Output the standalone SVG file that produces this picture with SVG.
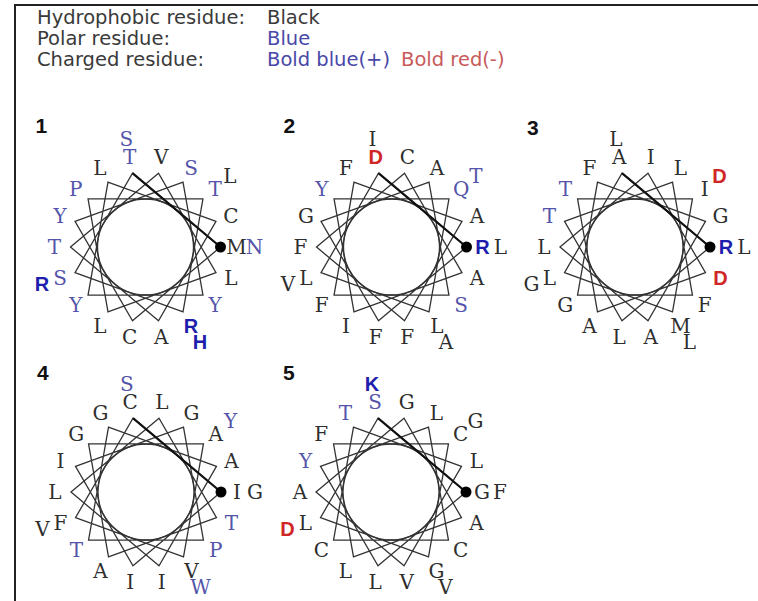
<svg xmlns="http://www.w3.org/2000/svg" xmlns:xlink="http://www.w3.org/1999/xlink" width="758" height="601" viewBox="0 0 758 601">
<style>
.frame{stroke:#222;stroke-width:2;fill:none}
.leg{font-family:"DejaVu Sans",Verdana,sans-serif;font-size:19.5px;fill:#3a3a3a}
.legb{fill:#4848a8}
.legr{fill:#c85a5a}
.num{font-family:"Liberation Sans",Arial,sans-serif;font-size:21px;font-weight:bold;fill:#111}
.star{fill:none;stroke:#333;stroke-width:1.3;stroke-linejoin:miter}
.first{fill:none;stroke:#111;stroke-width:2.2}
.lab{font-family:"DejaVu Serif","Liberation Serif",serif;font-size:20px;text-anchor:middle;fill:#2e2e2e}
.p{fill:#5454aa}
.pos{font-family:"Liberation Sans",Arial,sans-serif;font-weight:bold;font-size:20px;fill:#1e1eae}
.neg{font-family:"Liberation Sans",Arial,sans-serif;font-weight:bold;font-size:20px;fill:#d02626}
</style>
<defs>
<g id="wheel">
<circle cx="0" cy="0" r="48" class="star"/>
<path class="star" d="M75,0 L-13.02,-73.86 L-70.48,25.65 L37.5,64.95 L57.45,-48.21 L-57.45,-48.21 L-37.5,64.95 L70.48,25.65 L13.02,-73.86 L-75,0 L13.02,73.86 L70.48,-25.65 L-37.5,-64.95 L-57.45,48.21 L57.45,48.21 L37.5,-64.95 L-70.48,-25.65 L-13.02,73.86 Z"/>
<path class="first" d="M75,0 L-13.02,-73.86"/>
<circle cx="75" cy="0" r="5.5" fill="#000"/>
</g>
</defs>
<rect x="0" y="0" width="758" height="601" fill="#fff"/>
<path class="frame" d="M15,601 L15,5 L758,5"/>
<g id="legend">
<text class="leg" x="37" y="24">Hydrophobic residue:</text>
<text class="leg" x="267" y="24">Black</text>
<text class="leg" x="37" y="45">Polar residue:</text>
<text class="leg legb" x="267" y="45">Blue</text>
<text class="leg" x="37" y="66">Charged residue:</text>
<text class="leg legb" x="267" y="66">Bold blue(+)</text>
<text class="leg legr" x="401" y="66">Bold red(-)</text>
</g>
<g id="connectors">
<use xlink:href="#wheel" href="#wheel" x="145.5" y="247"/>
<use xlink:href="#wheel" href="#wheel" x="391.5" y="247"/>
<use xlink:href="#wheel" href="#wheel" x="635" y="247"/>
<use xlink:href="#wheel" href="#wheel" x="146" y="492"/>
<use xlink:href="#wheel" href="#wheel" x="391" y="492"/>
</g>
<g id="wheel1" transform="translate(145.5,247)">
<text class="num" x="-110" y="-114">1</text>
<text class="lab" x="91" y="7">M</text>
<text class="lab p" x="109" y="7">N</text>
<text class="lab" x="85.51" y="38.12">L</text>
<text class="lab p" x="69.71" y="65.49">Y</text>
<text class="pos" text-anchor="middle" x="45.5" y="85.81">R</text>
<text class="pos" text-anchor="middle" x="54.5" y="102.39">H</text>
<text class="lab" x="15.8" y="96.62">A</text>
<text class="lab" x="-15.8" y="96.62">C</text>
<text class="lab" x="-45.5" y="85.81">L</text>
<text class="lab p" x="-69.71" y="65.49">Y</text>
<text class="lab p" x="-85.51" y="38.12">S</text>
<text class="pos" text-anchor="middle" x="-103.5" y="44.28">R</text>
<text class="lab p" x="-91" y="7">T</text>
<text class="lab p" x="-85.51" y="-24.12">Y</text>
<text class="lab p" x="-69.71" y="-51.49">P</text>
<text class="lab" x="-45.5" y="-71.81">L</text>
<text class="lab p" x="-15.8" y="-82.62">T</text>
<text class="lab p" x="-19.1" y="-101.5">S</text>
<text class="lab" x="15.8" y="-82.62">V</text>
<text class="lab p" x="45.5" y="-71.81">S</text>
<text class="lab p" x="69.71" y="-51.49">T</text>
<text class="lab" x="84.5" y="-64">L</text>
<text class="lab" x="85.51" y="-24.12">C</text>
</g>
<g id="wheel2" transform="translate(391.5,247)">
<text class="num" x="-108" y="-114">2</text>
<text class="pos" text-anchor="middle" x="91" y="7">R</text>
<text class="lab" x="109" y="7">L</text>
<text class="lab" x="85.51" y="38.12">A</text>
<text class="lab p" x="69.71" y="65.49">S</text>
<text class="lab" x="45.5" y="85.81">L</text>
<text class="lab" x="54.5" y="102.39">A</text>
<text class="lab" x="15.8" y="96.62">F</text>
<text class="lab" x="-15.8" y="96.62">F</text>
<text class="lab" x="-45.5" y="85.81">I</text>
<text class="lab" x="-69.71" y="65.49">F</text>
<text class="lab" x="-85.51" y="38.12">L</text>
<text class="lab" x="-103.5" y="44.28">V</text>
<text class="lab" x="-91" y="7">F</text>
<text class="lab" x="-85.51" y="-24.12">G</text>
<text class="lab p" x="-69.71" y="-51.49">Y</text>
<text class="lab" x="-45.5" y="-71.81">F</text>
<text class="neg" text-anchor="middle" x="-15.8" y="-82.62">D</text>
<text class="lab" x="-19.1" y="-101.5">I</text>
<text class="lab" x="15.8" y="-82.62">C</text>
<text class="lab" x="45.5" y="-71.81">A</text>
<text class="lab p" x="69.71" y="-51.49">Q</text>
<text class="lab p" x="84.5" y="-64">T</text>
<text class="lab" x="85.51" y="-24.12">A</text>
</g>
<g id="wheel3" transform="translate(635,247)">
<text class="num" x="-108" y="-112">3</text>
<text class="pos" text-anchor="middle" x="91" y="7">R</text>
<text class="lab" x="109" y="7">L</text>
<text class="neg" text-anchor="middle" x="85.51" y="38.12">D</text>
<text class="lab" x="69.71" y="65.49">F</text>
<text class="lab" x="45.5" y="85.81">M</text>
<text class="lab" x="54.5" y="102.39">L</text>
<text class="lab" x="15.8" y="96.62">A</text>
<text class="lab" x="-15.8" y="96.62">L</text>
<text class="lab" x="-45.5" y="85.81">A</text>
<text class="lab" x="-69.71" y="65.49">G</text>
<text class="lab" x="-85.51" y="38.12">L</text>
<text class="lab" x="-103.5" y="44.28">G</text>
<text class="lab" x="-91" y="7">L</text>
<text class="lab p" x="-85.51" y="-24.12">T</text>
<text class="lab p" x="-69.71" y="-51.49">T</text>
<text class="lab" x="-45.5" y="-71.81">F</text>
<text class="lab" x="-15.8" y="-82.62">A</text>
<text class="lab" x="-19.1" y="-101.5">L</text>
<text class="lab" x="15.8" y="-82.62">I</text>
<text class="lab" x="45.5" y="-71.81">L</text>
<text class="lab" x="69.71" y="-51.49">I</text>
<text class="neg" text-anchor="middle" x="84.5" y="-64">D</text>
<text class="lab" x="85.51" y="-24.12">G</text>
</g>
<g id="wheel4" transform="translate(146,492)">
<text class="num" x="-109" y="-112">4</text>
<text class="lab" x="91" y="7">I</text>
<text class="lab" x="109" y="7">G</text>
<text class="lab p" x="85.51" y="38.12">T</text>
<text class="lab p" x="69.71" y="65.49">P</text>
<text class="lab" x="45.5" y="85.81">V</text>
<text class="lab p" x="54.5" y="102.39">W</text>
<text class="lab" x="15.8" y="96.62">I</text>
<text class="lab" x="-15.8" y="96.62">I</text>
<text class="lab" x="-45.5" y="85.81">A</text>
<text class="lab p" x="-69.71" y="65.49">T</text>
<text class="lab" x="-85.51" y="38.12">F</text>
<text class="lab" x="-103.5" y="44.28">V</text>
<text class="lab" x="-91" y="7">L</text>
<text class="lab" x="-85.51" y="-24.12">I</text>
<text class="lab" x="-69.71" y="-51.49">G</text>
<text class="lab" x="-45.5" y="-71.81">G</text>
<text class="lab" x="-15.8" y="-82.62">C</text>
<text class="lab p" x="-19.1" y="-101.5">S</text>
<text class="lab" x="15.8" y="-82.62">L</text>
<text class="lab" x="45.5" y="-71.81">G</text>
<text class="lab" x="69.71" y="-51.49">A</text>
<text class="lab p" x="84.5" y="-64">Y</text>
<text class="lab" x="85.51" y="-24.12">A</text>
</g>
<g id="wheel5" transform="translate(391,492)">
<text class="num" x="-108" y="-112">5</text>
<text class="lab" x="91" y="7">G</text>
<text class="lab" x="109" y="7">F</text>
<text class="lab" x="85.51" y="38.12">A</text>
<text class="lab" x="69.71" y="65.49">C</text>
<text class="lab" x="45.5" y="85.81">G</text>
<text class="lab" x="54.5" y="102.39">V</text>
<text class="lab" x="15.8" y="96.62">V</text>
<text class="lab" x="-15.8" y="96.62">L</text>
<text class="lab" x="-45.5" y="85.81">L</text>
<text class="lab" x="-69.71" y="65.49">C</text>
<text class="lab" x="-85.51" y="38.12">L</text>
<text class="neg" text-anchor="middle" x="-103.5" y="44.28">D</text>
<text class="lab" x="-91" y="7">A</text>
<text class="lab p" x="-85.51" y="-24.12">Y</text>
<text class="lab" x="-69.71" y="-51.49">F</text>
<text class="lab p" x="-45.5" y="-71.81">T</text>
<text class="lab p" x="-15.8" y="-82.62">S</text>
<text class="pos" text-anchor="middle" x="-19.1" y="-101.5">K</text>
<text class="lab" x="15.8" y="-82.62">G</text>
<text class="lab" x="45.5" y="-71.81">L</text>
<text class="lab" x="69.71" y="-51.49">C</text>
<text class="lab" x="84.5" y="-64">G</text>
<text class="lab" x="85.51" y="-24.12">L</text>
</g>
</svg>
